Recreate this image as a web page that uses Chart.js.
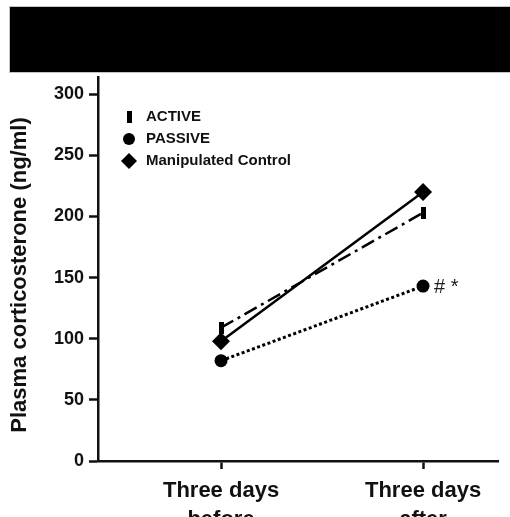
<!DOCTYPE html>
<html>
<head>
<meta charset="utf-8">
<script src="https://cdn.jsdelivr.net/npm/chart.js@4"></script>
<style>
  html, body { margin: 0; padding: 0; background: #fff; overflow: hidden; width: 510px; height: 517px; }
  #wrap { position: absolute; left: 0; top: 0; width: 510px; height: 560px; }
  #band { position: absolute; left: 9px; top: 6px; width: 501px; height: 67px; background: #000;
          border: 1px solid #c4c4c4; border-right: none; box-sizing: border-box; }
</style>
</head>
<body>
<div id="wrap"><canvas id="c" width="510" height="560"></canvas></div>
<div id="band"></div>
<script>
// Time points and their positions on the x axis
const categories = [['Three days', 'before'], ['Three days', 'after']];
const categoryPositions = [0, 1];

// Plasma corticosterone (ng/ml) per group
const activeValues  = [109, 203];
const passiveValues = [82, 143];
const controlValues = [98, 220];

// Significance marks next to the PASSIVE points
const passiveMarks = ['', '# *'];

// Y axis tick values and title
const yTicks = [0, 50, 100, 150, 200, 250, 300];
const yTitle = 'Plasma corticosterone (ng/ml)';

Chart.defaults.font.family = '"Liberation Sans", Arial, sans-serif';
Chart.defaults.color = '#111';

// Narrow upright bar used as the ACTIVE marker
function barMarker() {
  const c = document.createElement('canvas');
  c.width = 5; c.height = 12;
  const g = c.getContext('2d');
  g.fillStyle = '#000';
  g.fillRect(0, 0, 5, 12);
  return c;
}
const activeMarker = barMarker();

const toPoints = vals => vals.map((v, i) => ({ x: categoryPositions[i], y: v }));

// Legend inside the plot area, the y axis title and the significance marks
const overlay = {
  id: 'overlay',
  afterDatasetsDraw(chart) {
    const ctx = chart.ctx;
    const legendRadius = [6, 6, 8];
    ctx.save();
    chart.data.datasets.forEach((ds, i) => {
      const y = 117 + i * 22;
      ctx.fillStyle = '#000';
      Chart.helpers.drawPoint(ctx, { pointStyle: ds.pointStyle, radius: legendRadius[i], borderWidth: 0, rotation: 0 }, 129, y);
      ctx.fillStyle = '#111';
      ctx.font = 'bold 15px "Liberation Sans", Arial, sans-serif';
      ctx.textBaseline = 'middle';
      ctx.textAlign = 'left';
      ctx.fillText(ds.label, 146, y);
    });

    const meta = chart.getDatasetMeta(1);
    ctx.font = '20px "Liberation Sans", Arial, sans-serif';
    ctx.fillStyle = '#222';
    passiveMarks.forEach((m, i) => {
      if (!m) return;
      const p = meta.data[i];
      ctx.fillText(m, p.x + 11, p.y + 1);
    });

    // rotated axis title, centred a little below the plot centre
    ctx.translate(20, (chart.chartArea.top + chart.chartArea.bottom) / 2 + 6);
    ctx.rotate(-Math.PI / 2);
    ctx.textAlign = 'center';
    ctx.textBaseline = 'middle';
    ctx.font = 'bold 22px "Liberation Sans", Arial, sans-serif';
    ctx.fillStyle = '#111';
    ctx.fillText(yTitle, 0, 0);
    ctx.restore();
  }
};

new Chart(document.getElementById('c'), {
  type: 'line',
  data: {
    datasets: [
      {
        label: 'ACTIVE',
        data: toPoints(activeValues),
        borderColor: '#000', borderWidth: 2.5, borderDash: [14, 5, 3, 5],
        pointStyle: activeMarker, pointRadius: 6,
        pointBackgroundColor: '#000', pointBorderWidth: 0,
        order: 1
      },
      {
        label: 'PASSIVE',
        data: toPoints(passiveValues),
        borderColor: '#000', borderWidth: 3, borderDash: [3, 2.5],
        pointStyle: 'circle', pointRadius: 6.5,
        pointBackgroundColor: '#000', pointBorderWidth: 0,
        order: 2
      },
      {
        label: 'Manipulated Control',
        data: toPoints(controlValues),
        borderColor: '#000', borderWidth: 2.5,
        pointStyle: 'rectRot', pointRadius: 9,
        pointBackgroundColor: '#000', pointBorderWidth: 0,
        order: 0
      }
    ]
  },
  options: {
    responsive: false,
    animation: false,
    layout: { padding: { top: 77, right: 12, left: 0, bottom: 0 } },
    plugins: { legend: { display: false }, tooltip: { enabled: false } },
    elements: { line: { tension: 0 } },
    scales: {
      x: {
        type: 'linear',
        min: -0.609, max: 1.371,
        afterBuildTicks: s => { s.ticks = categoryPositions.map(v => ({ value: v })); },
        afterFit: s => { s.height = 99; },
        ticks: {
          callback: v => categories[categoryPositions.indexOf(v)],
          font: { size: 22, weight: 'bold', lineHeight: 1.3 },
          color: '#111', padding: 8, maxRotation: 0, autoSkip: false
        },
        grid: { drawOnChartArea: false, drawTicks: true, tickLength: 8, tickWidth: 2.5, tickColor: '#111' },
        border: { display: true, color: '#111', width: 2.5 }
      },
      y: {
        type: 'linear',
        min: 0, max: 314,
        afterBuildTicks: s => { s.ticks = yTicks.map(v => ({ value: v })); },
        afterFit: s => { s.width = 98; },
        ticks: { font: { size: 18, weight: 'bold' }, color: '#111', padding: 5 },
        grid: { drawOnChartArea: false, drawTicks: true, tickLength: 9, tickWidth: 2.5, tickColor: '#111' },
        border: { display: true, color: '#111', width: 2.5 }
      }
    }
  },
  plugins: [overlay]
});
</script>
</body>
</html>
